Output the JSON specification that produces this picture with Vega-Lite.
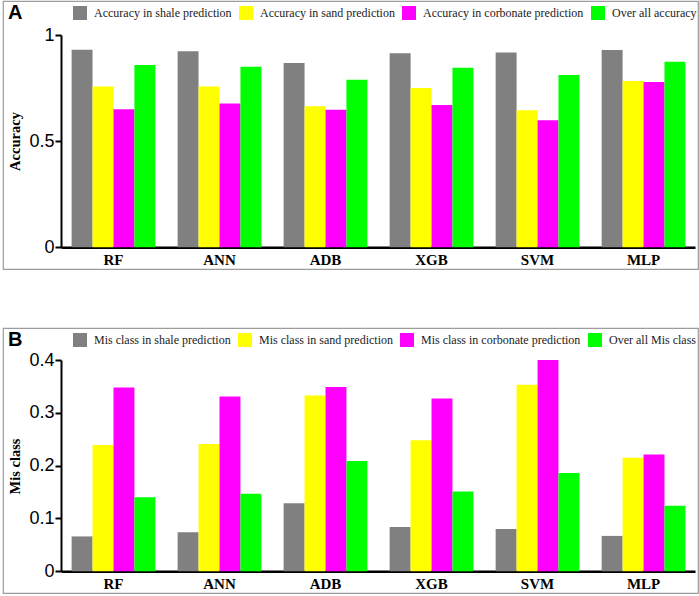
{
  "$schema": "https://vega.github.io/schema/vega-lite/v6.json",
  "padding": {"left": 2, "top": 0, "right": 2, "bottom": 0},
  "spacing": 59,
  "bounds": "flush",
  "config": {
    "view": {"stroke": "#9c9c9c", "strokeWidth": 1.2},
    "axis": {
      "grid": false,
      "domainColor": "#000000",
      "domainCap": "butt",
      "labelColor": "#000000",
      "titleColor": "#000000"
    },
    "axisY": {
      "labelFont": "Liberation Sans",
      "labelFontSize": 18,
      "labelPadding": 1,
      "format": "~g",
      "tickSize": 6,
      "tickWidth": 2,
      "tickColor": "#000000",
      "domainWidth": 2,
      "titleFont": "Liberation Serif",
      "titleFontWeight": "bold",
      "titleFontSize": 14.5,
      "titlePadding": 6
    },
    "axisX": {
      "labelFont": "Liberation Serif",
      "labelFontWeight": "bold",
      "labelFontSize": 15,
      "labelPadding": 5,
      "labelAngle": 0,
      "ticks": false,
      "domainWidth": 2.5,
      "title": null
    },
    "legend": {
      "orient": "none",
      "legendX": 5,
      "legendY": 5,
      "direction": "horizontal",
      "columns": 4,
      "columnPadding": 7,
      "labelOffset": 7,
      "labelLimit": 0,
      "labelFont": "Liberation Serif",
      "labelFontSize": 12,
      "labelColor": "#222222",
      "symbolType": "square",
      "symbolSize": 196,
      "symbolStrokeWidth": 0,
      "titleOrient": "left",
      "titleFont": "Liberation Sans",
      "titleFontWeight": "bold",
      "titleFontSize": 20,
      "titleColor": "#000000",
      "titlePadding": 50
    }
  },
  "datasets": {
    "acc": [
      {"model": "RF", "cls": "Accuracy in shale prediction", "value": 0.931},
      {"model": "RF", "cls": "Accuracy in sand prediction", "value": 0.758},
      {"model": "RF", "cls": "Accuracy in corbonate prediction", "value": 0.650},
      {"model": "RF", "cls": "Over all accuracy", "value": 0.859},
      {"model": "ANN", "cls": "Accuracy in shale prediction", "value": 0.923},
      {"model": "ANN", "cls": "Accuracy in sand prediction", "value": 0.757},
      {"model": "ANN", "cls": "Accuracy in corbonate prediction", "value": 0.677},
      {"model": "ANN", "cls": "Over all accuracy", "value": 0.851},
      {"model": "ADB", "cls": "Accuracy in shale prediction", "value": 0.868},
      {"model": "ADB", "cls": "Accuracy in sand prediction", "value": 0.664},
      {"model": "ADB", "cls": "Accuracy in corbonate prediction", "value": 0.648},
      {"model": "ADB", "cls": "Over all accuracy", "value": 0.789},
      {"model": "XGB", "cls": "Accuracy in shale prediction", "value": 0.914},
      {"model": "XGB", "cls": "Accuracy in sand prediction", "value": 0.750},
      {"model": "XGB", "cls": "Accuracy in corbonate prediction", "value": 0.670},
      {"model": "XGB", "cls": "Over all accuracy", "value": 0.846},
      {"model": "SVM", "cls": "Accuracy in shale prediction", "value": 0.918},
      {"model": "SVM", "cls": "Accuracy in sand prediction", "value": 0.645},
      {"model": "SVM", "cls": "Accuracy in corbonate prediction", "value": 0.598},
      {"model": "SVM", "cls": "Over all accuracy", "value": 0.812},
      {"model": "MLP", "cls": "Accuracy in shale prediction", "value": 0.929},
      {"model": "MLP", "cls": "Accuracy in sand prediction", "value": 0.783},
      {"model": "MLP", "cls": "Accuracy in corbonate prediction", "value": 0.779},
      {"model": "MLP", "cls": "Over all accuracy", "value": 0.874}
    ],
    "mis": [
      {"model": "RF", "cls": "Mis class in shale prediction", "value": 0.066},
      {"model": "RF", "cls": "Mis class in sand prediction", "value": 0.239},
      {"model": "RF", "cls": "Mis class in corbonate prediction", "value": 0.348},
      {"model": "RF", "cls": "Over all Mis class", "value": 0.140},
      {"model": "ANN", "cls": "Mis class in shale prediction", "value": 0.074},
      {"model": "ANN", "cls": "Mis class in sand prediction", "value": 0.241},
      {"model": "ANN", "cls": "Mis class in corbonate prediction", "value": 0.331},
      {"model": "ANN", "cls": "Over all Mis class", "value": 0.147},
      {"model": "ADB", "cls": "Mis class in shale prediction", "value": 0.129},
      {"model": "ADB", "cls": "Mis class in sand prediction", "value": 0.333},
      {"model": "ADB", "cls": "Mis class in corbonate prediction", "value": 0.349},
      {"model": "ADB", "cls": "Over all Mis class", "value": 0.209},
      {"model": "XGB", "cls": "Mis class in shale prediction", "value": 0.084},
      {"model": "XGB", "cls": "Mis class in sand prediction", "value": 0.248},
      {"model": "XGB", "cls": "Mis class in corbonate prediction", "value": 0.327},
      {"model": "XGB", "cls": "Over all Mis class", "value": 0.151},
      {"model": "SVM", "cls": "Mis class in shale prediction", "value": 0.080},
      {"model": "SVM", "cls": "Mis class in sand prediction", "value": 0.353},
      {"model": "SVM", "cls": "Mis class in corbonate prediction", "value": 0.400},
      {"model": "SVM", "cls": "Over all Mis class", "value": 0.186},
      {"model": "MLP", "cls": "Mis class in shale prediction", "value": 0.067},
      {"model": "MLP", "cls": "Mis class in sand prediction", "value": 0.215},
      {"model": "MLP", "cls": "Mis class in corbonate prediction", "value": 0.221},
      {"model": "MLP", "cls": "Over all Mis class", "value": 0.124}
    ]
  },
  "vconcat": [
    {
      "width": 695,
      "height": 268,
      "data": {"name": "acc"},
      "mark": {"type": "bar"},
      "encoding": {
        "x": {
          "field": "model",
          "type": "nominal",
          "sort": ["RF", "ANN", "ADB", "XGB", "SVM", "MLP"],
          "scale": {"paddingInner": 0.21, "paddingOuter": 0.383, "align": 0.845},
          "axis": {"offset": -21.7, "domainDash": [0, 58, 634, 100]}
        },
        "xOffset": {
          "field": "cls",
          "type": "nominal",
          "sort": ["Accuracy in shale prediction", "Accuracy in sand prediction", "Accuracy in corbonate prediction", "Over all accuracy"],
          "scale": {"paddingInner": 0, "paddingOuter": 0}
        },
        "y": {
          "field": "value",
          "type": "quantitative",
          "scale": {"domain": [-0.1022, 1.1602], "nice": false, "zero": false},
          "axis": {"title": "Accuracy", "values": [0, 0.5, 1], "offset": -58, "domainDash": [0, 21.7, 212.3, 100], "titleY": 140}
        },
        "y2": {"datum": 0},
        "color": {
          "field": "cls",
          "type": "nominal",
          "scale": {
            "domain": ["Accuracy in shale prediction", "Accuracy in sand prediction", "Accuracy in corbonate prediction", "Over all accuracy"],
            "range": ["#808080", "#ffff00", "#ff00ff", "#00ff00"]
          },
          "legend": {"title": "A"}
        }
      }
    },
    {
      "width": 695,
      "height": 265,
      "data": {"name": "mis"},
      "mark": {"type": "bar"},
      "encoding": {
        "x": {
          "field": "model",
          "type": "nominal",
          "sort": ["RF", "ANN", "ADB", "XGB", "SVM", "MLP"],
          "scale": {"paddingInner": 0.21, "paddingOuter": 0.383, "align": 0.845},
          "axis": {"offset": -21.7, "domainDash": [0, 58, 634, 100]}
        },
        "xOffset": {
          "field": "cls",
          "type": "nominal",
          "sort": ["Mis class in shale prediction", "Mis class in sand prediction", "Mis class in corbonate prediction", "Over all Mis class"],
          "scale": {"paddingInner": 0, "paddingOuter": 0}
        },
        "y": {
          "field": "value",
          "type": "quantitative",
          "scale": {"domain": [-0.0411, 0.4606], "nice": false, "zero": false},
          "axis": {"title": "Mis class", "values": [0, 0.1, 0.2, 0.3, 0.4], "offset": -58, "domainDash": [0, 21.7, 211.3, 100], "titleY": 138}
        },
        "y2": {"datum": 0},
        "color": {
          "field": "cls",
          "type": "nominal",
          "scale": {
            "domain": ["Mis class in shale prediction", "Mis class in sand prediction", "Mis class in corbonate prediction", "Over all Mis class"],
            "range": ["#808080", "#ffff00", "#ff00ff", "#00ff00"]
          },
          "legend": {"title": "B"}
        }
      }
    }
  ],
  "resolve": {"scale": {"color": "independent", "x": "independent", "xOffset": "independent", "y": "independent"}}
}
